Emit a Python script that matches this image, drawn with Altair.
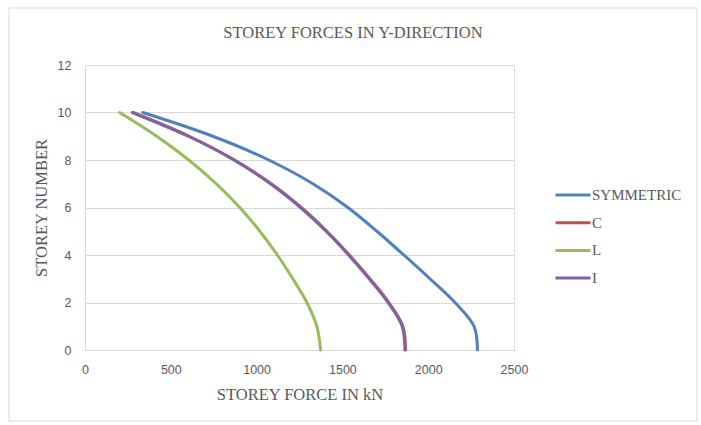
import altair as alt
import pandas as pd

# Storey levels and storey forces (kN) for each plan shape
storeys = [0, 1, 2, 3, 4, 5, 6, 7, 8, 9, 10]
symmetric = [2287, 2267, 2156, 2010, 1858, 1701, 1532, 1328, 1071, 745, 337]
c_shape = [1868, 1852, 1770, 1660, 1540, 1409, 1260, 1085, 871, 606, 279]
l_shape = [1373, 1351, 1293, 1211, 1121, 1019, 902, 765, 605, 418, 202]
i_shape = [1864, 1848, 1766, 1656, 1536, 1405, 1256, 1081, 868, 603, 276]

series_names = ["SYMMETRIC", "C", "L", "I"]
series_values = [symmetric, c_shape, l_shape, i_shape]
series_colors = ["#4F81BD", "#C0504D", "#9BBB59", "#8064A2"]

x_ticks = [0, 500, 1000, 1500, 2000, 2500]
y_ticks = [0, 2, 4, 6, 8, 10, 12]

chart_title = "STOREY FORCES IN Y-DIRECTION"

rows = []
for name, vals in zip(series_names, series_values):
    for s, v in zip(storeys, vals):
        rows.append({"series": name, "storey": s, "force": v})
df = pd.DataFrame(rows)

GREY_TEXT = "#595959"
GRID = "#D9D9D9"
SERIF = "Liberation Serif"
SANS = "Liberation Sans"

W, H = 429, 285

lines = alt.Chart(df).mark_line(
    interpolate="catmull-rom", strokeWidth=3, strokeCap="round"
).encode(
    x=alt.X(
        "force:Q",
        scale=alt.Scale(domain=[0, 2500], nice=False),
        axis=alt.Axis(
            values=x_ticks,
            format="d",
            title="STOREY FORCE IN kN",
            titleFont=SERIF,
            titleFontSize=16.5,
            titleFontWeight="normal",
            titleColor=GREY_TEXT,
            titlePadding=11,
            labelFont=SANS,
            labelFontSize=12.5,
            labelColor=GREY_TEXT,
            labelPadding=13,
            labelFlush=False,
            ticks=False,
            grid=False,
            domainColor=GRID,
            domainWidth=1,
        ),
    ),
    y=alt.Y(
        "storey:Q",
        scale=alt.Scale(domain=[0, 12], nice=False),
        axis=alt.Axis(
            values=y_ticks,
            title="STOREY NUMBER",
            titleFont=SERIF,
            titleFontSize=16.5,
            titleFontWeight="normal",
            titleColor=GREY_TEXT,
            titlePadding=8,
            labelFont=SANS,
            labelFontSize=12.5,
            labelColor=GREY_TEXT,
            labelPadding=14,
            labelFlush=False,
            ticks=False,
            grid=True,
            gridColor=GRID,
            gridWidth=1,
            domainColor=GRID,
            domainWidth=1,
        ),
    ),
    color=alt.Color(
        "series:N",
        scale=alt.Scale(domain=series_names, range=series_colors),
        sort=series_names,
        legend=alt.Legend(
            title=None,
            orient="none",
            legendX=469,
            legendY=111,
            symbolType="stroke",
            symbolSize=1225,
            symbolStrokeWidth=3,
            labelFont=SERIF,
            labelFontSize=15,
            labelColor=GREY_TEXT,
            labelOffset=0,
            rowPadding=0.7,
            padding=0,
        ),
    ),
    order=alt.Order("storey:Q"),
    detail="series:N",
)

one_row = pd.DataFrame({"k": [0]})

# Light frame around the whole chart
frame = alt.Chart(one_row).mark_rect(
    fill=None, stroke=GRID, strokeWidth=1
).encode(
    x=alt.value(-76), x2=alt.value(612), y=alt.value(-57), y2=alt.value(356)
)

# Chart heading, centred over the whole frame
heading = alt.Chart(one_row).mark_text(
    font=SERIF, fontSize=16.5, color=GREY_TEXT, align="center", baseline="middle"
).encode(
    x=alt.value(268), y=alt.value(-32), text=alt.value(chart_title)
)

chart = alt.layer(frame, heading, lines).properties(
    width=W,
    height=H,
    autosize=alt.AutoSizeParams(type="none"),
    padding={"left": 85, "top": 65, "right": 701 - 85 - W, "bottom": 425 - 65 - H},
).configure_view(stroke=None).configure(background="white")

chart.save("out.html", embed_options={"renderer": "svg", "actions": False})
